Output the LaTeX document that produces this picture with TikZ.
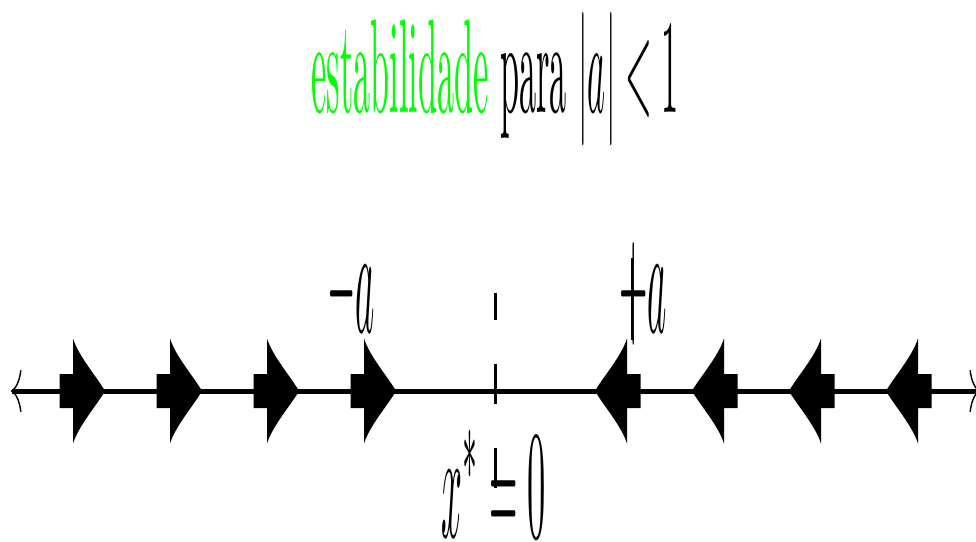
\documentclass[tikz,border=0pt]{standalone}
\usepackage{tikz}
\usetikzlibrary{arrows.meta}
\definecolor{stablecolor}{RGB}{0,255,0}
\definecolor{axiscolor}{RGB}{0,0,0}
\tikzset{
titletext/.style={
  anchor=base,
  inner sep=0pt,
  xscale=1.95,
  yscale=7.6
},
pointlabel/.style={
  anchor=base,
  inner sep=0pt,
  xscale=2.08,
  yscale=8.8
},
axisline/.style={
  {To[length=6pt,width=24pt,line width=0.8pt]}-{To[length=6pt,width=24pt,line width=0.8pt]},
  line width=2.85pt,
  draw=axiscolor
},
flowmark/.style={
  fill=axiscolor
},
fixedline/.style={
  draw=axiscolor,
  line width=1.2pt,
  dash pattern=on 22.8pt off 25pt,
  dash phase=7.4pt
},
tickline/.style={
  draw=axiscolor,
  line width=0.9pt
}
}

\begin{document}
\begin{tikzpicture}[x=0.02cm,y=-0.02cm]
  \useasboundingbox (0,0) rectangle (976,541);

  % title
  \node[titletext] (title) at (495,112)
    {\textcolor{stablecolor}{estabilidade} para $|a|<1$};

  % phase line
  \coordinate (left) at (11,391);
  \coordinate (right) at (980,391);
  \draw[axisline] (left) -- (right);

  % flow towards the fixed point
  \foreach \pos/\dir in {105/1,202/1,299/1,396/1,595/-1,692/-1,789/-1,886/-1}
    \fill[flowmark, shift={(\pos,391)}, xscale=\dir]
      (0,0) .. controls (-8,-14) and (-26,-34) .. (-32,-52.5)
      -- (-32,-17) -- (-45.5,-17) -- (-45.5,17) -- (-32,17)
      -- (-32,52.5) .. controls (-26,34) and (-8,14) .. (0,0) -- cycle;

  % labels
  \node[pointlabel] (minusa) at (351,332) {$-a$};
  \node[pointlabel] (plusa) at (643,332) {$+a$};
  \node[pointlabel] (fixed) at (493.5,537) {$x^*=0$};

  % fixed point and tick
  \coordinate (fixtop) at (495.5,293);
  \coordinate (fixbot) at (495.5,490);
  \draw[fixedline] (fixtop) -- (fixbot);
  \coordinate (ticktop) at (632,258);
  \coordinate (tickbot) at (632,340);
  \draw[tickline] (ticktop) -- (tickbot);
\end{tikzpicture}
\end{document}
